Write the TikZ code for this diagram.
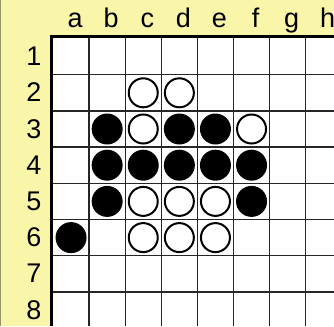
\documentclass[tikz,border=0pt]{standalone}
\usepackage{fontspec}
\setmainfont{Liberation Sans}
\definecolor{paper}{HTML}{F9F6AA}
\tikzset{
  boardlabel/.style={anchor=base, inner sep=0pt, font=\fontsize{27}{30}\selectfont},
  gridline/.style={line width=1.4pt, black!85},
  blackdisc/.style={circle, fill=black, minimum size=31pt, inner sep=0pt},
  whitedisc/.style={circle, draw=black, fill=white, line width=2pt, minimum size=29pt, inner sep=0pt}
}
\begin{document}
\begin{tikzpicture}[x=1pt,y=-1pt]
  \fill[paper] (0,0) rectangle (334,326);
  \useasboundingbox (0,0) rectangle (334,326);
  \draw[paper!60!black, line width=1pt] (0.5,0) -- (0.5,326);
  % column and row labels
  \foreach \l [count=\i] in {a,b,c,d,e,f,g,h}
    \node[boardlabel] (col\l) at ({53+36.1*(\i-0.5)+4},28) {\l};
  \foreach \r in {1,...,8}
    \node[boardlabel] (row\r) at (34,{38.5+36.2*(\r-0.5)+9}) {\r};
  \begin{scope}[shift={(53,38.5)}]
    \fill[white] (0,0) rectangle (281,287.5);
    \foreach \i in {1,...,7}
      \draw[gridline] ({36.1*\i},0) -- ({36.1*\i},287.5);
    \foreach \j in {1,...,7}
      \draw[gridline] (0,{36.2*\j}) -- (281,{36.2*\j});
    \draw[line width=3.5pt] (-1.75,287.5) -- (-1.75,-1.75) -- (281,-1.75);
    % discs
    \foreach \c/\i/\r in {b/2/3, d/4/3, e/5/3, b/2/4, c/3/4, d/4/4, e/5/4, f/6/4, b/2/5, f/6/5, a/1/6}
      \node[blackdisc] (\c\r) at ({36.1*(\i-0.5)},{36.2*(\r-0.5)}) {};
    \foreach \c/\i/\r in {c/3/2, d/4/2, c/3/3, f/6/3, c/3/5, d/4/5, e/5/5, c/3/6, d/4/6, e/5/6}
      \node[whitedisc] (\c\r) at ({36.1*(\i-0.5)},{36.2*(\r-0.5)}) {};
  \end{scope}
\end{tikzpicture}
\end{document}
